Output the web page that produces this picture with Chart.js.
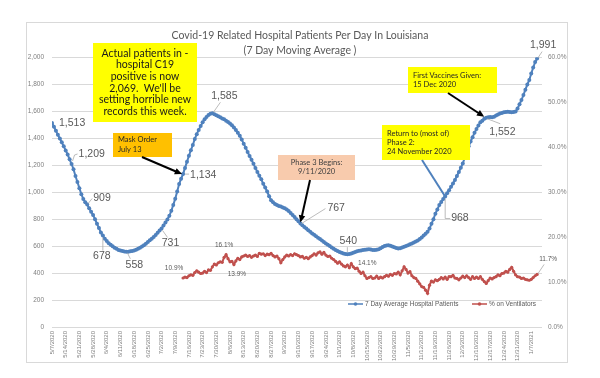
<!DOCTYPE html>
<html>
<head>
<meta charset="utf-8">
<title>Covid-19 Hospital Patients - Louisiana</title>
<script src="https://cdn.jsdelivr.net/npm/chart.js@4.4.0/dist/chart.umd.min.js"></script>
<style>
  html, body { margin: 0; padding: 0; background: #fff; }
</style>
</head>
<body>
<canvas id="chart" width="600" height="378"></canvas>
<script>
// ---- data ----
const chartTitle = ['Covid-19 Related Hospital Patients Per Day In Louisiana', '(7 Day Moving Average )'];

// one tick label per week, starting at the first data day (5/7/2020)
const weekLabels = [
    '5/7/2020', '5/14/2020', '5/21/2020', '5/28/2020', '6/4/2020', '6/11/2020', '6/18/2020', '6/25/2020',
    '7/2/2020', '7/9/2020', '7/16/2020', '7/23/2020', '7/30/2020', '8/6/2020', '8/13/2020', '8/20/2020',
    '8/27/2020', '9/3/2020', '9/10/2020', '9/17/2020', '9/24/2020', '10/1/2020', '10/8/2020', '10/15/2020',
    '10/22/2020', '10/29/2020', '11/5/2020', '11/12/2020', '11/19/2020', '11/26/2020', '12/3/2020', '12/10/2020',
    '12/17/2020', '12/24/2020', '12/31/2020', '1/7/2021'
];

// 7 day average hospital patients, one value per day from 5/7/2020 to 1/10/2021
const hospitalPatients = [
    1513, 1485, 1456, 1425, 1398, 1370, 1340, 1310, 1280, 1244,
    1209, 1170, 1120, 1075, 1030, 985, 950, 925, 909, 880,
    855, 830, 800, 765, 735, 700, 678, 655, 638, 622,
    610, 598, 588, 580, 572, 567, 563, 560, 558, 559,
    561, 564, 568, 573, 580, 588, 597, 607, 618, 630,
    643, 655, 668, 683, 699, 715, 731, 752, 775, 798,
    825, 862, 905, 952, 1005, 1060, 1100, 1134, 1180, 1225,
    1270, 1311, 1350, 1395, 1430, 1462, 1490, 1518, 1540, 1558,
    1572, 1581, 1585, 1578, 1570, 1563, 1555, 1546, 1540, 1530,
    1520, 1510, 1496, 1480, 1462, 1440, 1418, 1390, 1360, 1330,
    1298, 1268, 1240, 1210, 1180, 1150, 1122, 1095, 1062, 1035,
    1005, 970, 941, 925, 912, 904, 898, 893, 887, 881,
    872, 860, 845, 830, 815, 800, 784, 767, 755, 742,
    730, 718, 706, 694, 684, 673, 662, 652, 641, 630,
    620, 610, 600, 590, 580, 571, 563, 557, 551, 546,
    542, 540, 541, 545, 551, 557, 562, 565, 568, 571,
    573, 575, 576, 574, 572, 571, 573, 576, 584, 593,
    600, 605, 607, 603, 597, 591, 586, 583, 585, 590,
    595, 601, 607, 613, 620, 627, 635, 642, 652, 664,
    678, 692, 706, 730, 765, 800, 840, 872, 904, 928,
    950, 968, 992, 1015, 1040, 1065, 1090, 1120, 1150, 1182,
    1212, 1255, 1300, 1340, 1375, 1408, 1440, 1468, 1494, 1518,
    1530, 1545, 1552, 1556, 1557, 1556, 1560, 1568, 1576, 1583,
    1588, 1592, 1595, 1596, 1595, 1593, 1594, 1598, 1620, 1652,
    1683, 1720, 1760, 1798, 1832, 1880, 1925, 1965, 1991
];

// % on ventilators, starts on 7/13/2020 (day 67)
const ventStartDay = 67;
const ventilatorPct = [
    10.9, 11.1, 11.0, 11.4, 11.6, 11.5, 12.1, 12.5, 12.2, 11.9,
    12.0, 12.4, 12.1, 12.7, 12.6, 13.4, 14.0, 13.8, 14.3, 14.5,
    14.4, 15.5, 16.1, 15.2, 14.5, 14.6, 13.9, 14.7, 15.3, 15.0,
    15.6, 15.8, 16.0, 15.7, 15.9, 15.5, 15.8, 16.0, 15.7, 16.4,
    16.2, 16.3, 15.9, 16.2, 16.1, 16.4, 15.9, 15.6, 15.8, 15.2,
    14.3, 15.0, 15.6, 16.0, 15.8, 16.1, 15.9, 16.3, 16.1, 15.9,
    15.6, 15.7, 15.3, 15.5, 15.2, 15.6, 15.9, 16.3, 16.0, 16.5,
    16.7, 16.2, 16.6, 16.0, 15.7, 15.8, 15.3, 15.0, 14.6, 14.2,
    14.5, 14.0, 13.6, 13.4, 13.8, 13.2, 14.1, 13.4, 13.0, 13.1,
    12.4, 11.9, 12.2, 11.4, 10.8, 11.0, 11.2, 10.8, 10.9, 11.3,
    10.8, 11.1, 10.9, 11.2, 11.5, 11.3, 11.7, 11.5, 11.9, 11.8,
    12.2, 11.6, 12.5, 13.4, 12.8, 12.0, 12.3, 11.4, 11.0, 10.8,
    10.2, 9.6, 9.0, 8.8, 8.2, 7.5, 9.3, 10.2, 10.0, 10.5,
    10.3, 10.6, 11.0, 10.7, 11.1, 10.6, 11.2, 11.2, 11.5, 10.9,
    10.8, 10.5, 10.9, 11.3, 11.0, 11.4, 11.0, 10.6, 11.2, 10.8,
    11.1, 10.8, 11.2, 10.6, 10.1, 9.7, 10.3, 10.9, 10.7, 11.0,
    11.2, 11.6, 11.4, 11.9, 12.0, 12.4, 12.2, 12.8, 13.3, 12.4,
    11.6, 11.2, 11.1, 10.8, 10.9, 10.6, 10.5, 10.4, 10.6, 11.0,
    11.4, 11.7
];

// ---- colours / fonts ----
const BLUE = '#4F81BD';
const RED = '#C0504D';
const GRID = '#d9d9d9';
const TICK = '#7f7f7f';
const LABEL = '#595959';
const BOX_FONT = 'Lato, "Liberation Sans", sans-serif';

Chart.defaults.font.family = '"Liberation Sans", Arial, sans-serif';

// data labels shown on the chart: which day, and where the text goes relative to the point
const dataLabels = [
    { ds: 0, day: 0,   dx: 7,  dy: 0,   align: 'left' },
    { ds: 0, day: 10,  dx: 7,  dy: -10, align: 'left',   leader: [[1, -3], [3, -9], [6, -10]] },
    { ds: 0, day: 18,  dx: 6,  dy: -6,  align: 'left',   leader: [[1, -1], [5, -6]] },
    { ds: 0, day: 26,  dx: -1, dy: 21,  align: 'center', leader: [[0, 2], [0, 15]] },
    { ds: 0, day: 38,  dx: 8,  dy: 13,  align: 'center', leader: [[1, 1], [4, 7]] },
    { ds: 0, day: 56,  dx: 9,  dy: 15,  align: 'center', leader: [[1, 2], [6, 9]] },
    { ds: 0, day: 67,  dx: 7,  dy: 1,   align: 'left',   leader: [[2, 0], [6, 0]] },
    { ds: 0, day: 82,  dx: 12, dy: -17, align: 'center', leader: [[1, -1], [8, -11]] },
    { ds: 0, day: 127, dx: 27, dy: -15, align: 'left',   leader: [[1, 0], [25, -15]] },
    { ds: 0, day: 151, dx: 1,  dy: -13, align: 'center', leader: [[0, -2], [0, -7]] },
    { ds: 0, day: 201, dx: 6,  dy: 22,  align: 'left',   leader: [[0, 2], [0, 22], [5, 22]] },
    { ds: 0, day: 222, dx: 3,  dy: 14,  align: 'left',   leader: [[1, 1], [14, 6]] },
    { ds: 0, day: 248, dx: 6,  dy: -13, align: 'center', leader: [[1, -1], [5, -7]] },
    { ds: 1, day: 67,  dx: -9, dy: -10, align: 'center' },
    { ds: 1, day: 89,  dx: -2, dy: -9,  align: 'center' },
    { ds: 1, day: 93,  dx: 3,  dy: 10,  align: 'center' },
    { ds: 1, day: 153, dx: 16, dy: 0,   align: 'center' },
    { ds: 1, day: 248, dx: 11, dy: -15, align: 'center', leader: [[1, -1], [7, -10]] }
];

// call-out boxes (pixel boxes, like drawn shapes on the original slide)
const callouts = [
    { x: 93, y: 43, w: 104, h: 79, fill: '#ffff00', color: '#1a1a1a', size: 10.5, align: 'center', lh: 11.7,
      lines: ['Actual patients in -', 'hospital C19', 'positive is now', '2,069.  We\'ll be', 'setting horrible new', 'records this week.'] },
    { x: 113, y: 133, w: 59, h: 24, fill: '#ffc000', color: '#262626', size: 7.5, align: 'left', lh: 10,
      lines: ['Mask Order', 'July 13'] },
    { x: 278, y: 155, w: 77, h: 25, fill: '#f8cbad', color: '#404040', size: 7.5, align: 'center', lh: 9,
      lines: ['Phase 3 Begins:', '9/11/2020'] },
    { x: 382, y: 125, w: 88, h: 35, fill: '#ffff00', color: '#262626', size: 7.5, align: 'left', lh: 9.2,
      lines: ['Return to (most of)', 'Phase 2:', '24 November 2020'] },
    { x: 408, y: 67, w: 89, h: 26, fill: '#ffff00', color: '#262626', size: 7.5, align: 'left', lh: 8.7,
      lines: ['First Vaccines Given:', '15 Dec 2020'] }
];

// arrows from boxes to the days they talk about
const arrows = [
    { from: [142, 157], ds: 0, day: 67,  off: [-1, 0],  color: '#000', head: true },
    { from: [310, 180], ds: 0, day: 127, off: [0, -1],  color: '#000', head: true },
    { from: [448, 93],  ds: 0, day: 222, off: [-2, -1], color: '#000', head: true },
    { from: [422, 160], ds: 0, day: 201, off: [0, 0],   color: BLUE,   head: false }
];

// ---- helpers ----
function pointAt(chart, dsIndex, day) {
    const data = chart.data.datasets[dsIndex].data;
    const idx = data.findIndex(p => p.x === day);
    const el = chart.getDatasetMeta(dsIndex).data[idx];
    return { x: el.x, y: el.y, value: data[idx].y };
}

function drawArrow(ctx, x1, y1, x2, y2, color, head) {
    const a = Math.atan2(y2 - y1, x2 - x1);
    const len = head ? 6 : 0;
    ctx.strokeStyle = color;
    ctx.lineWidth = 2;
    ctx.beginPath();
    ctx.moveTo(x1, y1);
    ctx.lineTo(x2 - len * Math.cos(a), y2 - len * Math.sin(a));
    ctx.stroke();
    if (head) {
        ctx.fillStyle = color;
        ctx.beginPath();
        ctx.moveTo(x2, y2);
        ctx.lineTo(x2 - 8 * Math.cos(a - 0.42), y2 - 8 * Math.sin(a - 0.42));
        ctx.lineTo(x2 - 8 * Math.cos(a + 0.42), y2 - 8 * Math.sin(a + 0.42));
        ctx.closePath();
        ctx.fill();
    }
}

const decorations = {
    id: 'decorations',
    beforeDraw(chart) {
        const ctx = chart.ctx;
        ctx.save();
        ctx.fillStyle = '#fff';
        ctx.fillRect(0, 0, chart.width, chart.height);
        ctx.strokeStyle = GRID;
        ctx.lineWidth = 1;
        ctx.strokeRect(26.5, 22.5, 541, 340);
        ctx.restore();
    },
    afterDatasetsDraw(chart) {
        const ctx = chart.ctx;
        ctx.save();

        // data labels + leader lines
        dataLabels.forEach(l => {
            const p = pointAt(chart, l.ds, l.day);
            if (l.leader) {
                ctx.strokeStyle = '#a6a6a6';
                ctx.lineWidth = 0.75;
                ctx.beginPath();
                l.leader.forEach((o, i) => {
                    if (i === 0) ctx.moveTo(p.x + o[0], p.y + o[1]);
                    else ctx.lineTo(p.x + o[0], p.y + o[1]);
                });
                ctx.stroke();
            }
            const text = l.ds === 0 ? p.value.toLocaleString('en-US') : p.value.toFixed(1) + '%';
            ctx.fillStyle = LABEL;
            ctx.font = l.ds === 0 ? '10.5px "Liberation Sans", Arial' : '6.5px "Liberation Sans", Arial';
            ctx.textAlign = l.align;
            ctx.textBaseline = 'middle';
            ctx.fillText(text, p.x + l.dx, p.y + l.dy);
        });

        // call-out boxes
        callouts.forEach(b => {
            ctx.fillStyle = b.fill;
            ctx.fillRect(b.x, b.y, b.w, b.h);
            ctx.fillStyle = b.color;
            ctx.font = b.size + 'px ' + BOX_FONT;
            ctx.textAlign = b.align;
            ctx.textBaseline = 'middle';
            const tx = b.align === 'center' ? b.x + b.w / 2 : b.x + 5;
            const top = b.y + b.h / 2 - (b.lines.length - 1) * b.lh / 2;
            b.lines.forEach((line, i) => ctx.fillText(line, tx, top + i * b.lh));
        });

        // arrows
        arrows.forEach(a => {
            const p = pointAt(chart, a.ds, a.day);
            drawArrow(ctx, a.from[0], a.from[1], p.x + a.off[0], p.y + a.off[1], a.color, a.head);
        });

        // legend inside the plot, bottom right
        const ly = 304;
        const items = [
            { x: 348, color: BLUE, text: chart.data.datasets[0].label },
            { x: 472, color: RED, text: chart.data.datasets[1].label }
        ];
        ctx.font = '6.5px "Liberation Sans", Arial';
        ctx.textAlign = 'left';
        ctx.textBaseline = 'middle';
        items.forEach(it => {
            ctx.strokeStyle = it.color;
            ctx.lineWidth = 1.5;
            ctx.beginPath();
            ctx.moveTo(it.x, ly);
            ctx.lineTo(it.x + 15, ly);
            ctx.stroke();
            ctx.fillStyle = it.color;
            ctx.beginPath();
            ctx.arc(it.x + 7.5, ly, 1.8, 0, Math.PI * 2);
            ctx.fill();
            ctx.fillStyle = LABEL;
            ctx.fillText(it.text, it.x + 17, ly + 0.5);
        });

        ctx.restore();
    }
};

// ---- chart ----
const chartCanvas = document.getElementById('chart');

new Chart(chartCanvas, {
    type: 'line',
    data: {
        datasets: [
            {
                label: '7 Day Average Hospital Patients',
                data: hospitalPatients.map((v, i) => ({ x: i, y: v })),
                borderColor: BLUE,
                backgroundColor: BLUE,
                borderWidth: 2,
                pointRadius: 2,
                pointBorderWidth: 0,
                pointBackgroundColor: BLUE,
                tension: 0,
                yAxisID: 'y'
            },
            {
                label: '% on Ventilators',
                data: ventilatorPct.map((v, i) => ({ x: ventStartDay + i, y: v })),
                borderColor: RED,
                backgroundColor: RED,
                borderWidth: 2,
                pointRadius: 1.6,
                pointBorderWidth: 0,
                pointBackgroundColor: RED,
                tension: 0,
                yAxisID: 'y1'
            }
        ]
    },
    options: {
        responsive: false,
        animation: false,
        events: [],
        layout: {
            padding: { left: 26, right: 26, top: 22, bottom: 15 }
        },
        plugins: {
            legend: { display: false },
            tooltip: { enabled: false },
            title: {
                display: true,
                text: chartTitle,
                color: LABEL,
                font: { family: BOX_FONT, size: 10.5, weight: 'normal', lineHeight: 1.35 },
                padding: { top: 7, bottom: 0 }
            }
        },
        scales: {
            x: {
                type: 'linear',
                min: 0,
                max: 250.5,
                grid: { display: false, drawTicks: false },
                border: { display: false },
                afterBuildTicks: scale => {
                    scale.ticks = weekLabels.map((_, i) => ({ value: i * 7 }));
                },
                afterFit: scale => { scale.height = 36; },
                ticks: {
                    autoSkip: false,
                    minRotation: 90,
                    maxRotation: 90,
                    padding: 4,
                    color: TICK,
                    font: { size: 6 },
                    callback: value => weekLabels[value / 7]
                }
            },
            y: {
                position: 'left',
                min: 0,
                max: 2000,
                grid: { color: GRID, drawTicks: false },
                border: { display: false },
                afterFit: scale => { scale.width = 26; },
                ticks: {
                    stepSize: 200,
                    padding: 8,
                    color: TICK,
                    font: { size: 6.5 },
                    callback: value => value.toLocaleString('en-US')
                }
            },
            y1: {
                position: 'right',
                min: 0,
                max: 60,
                grid: { drawOnChartArea: false, drawTicks: false },
                border: { display: false },
                afterFit: scale => { scale.width = 32; },
                ticks: {
                    stepSize: 10,
                    padding: 6,
                    color: TICK,
                    font: { size: 6.5 },
                    callback: value => value.toFixed(1) + '%'
                }
            }
        }
    },
    plugins: [decorations]
});
</script>
</body>
</html>
